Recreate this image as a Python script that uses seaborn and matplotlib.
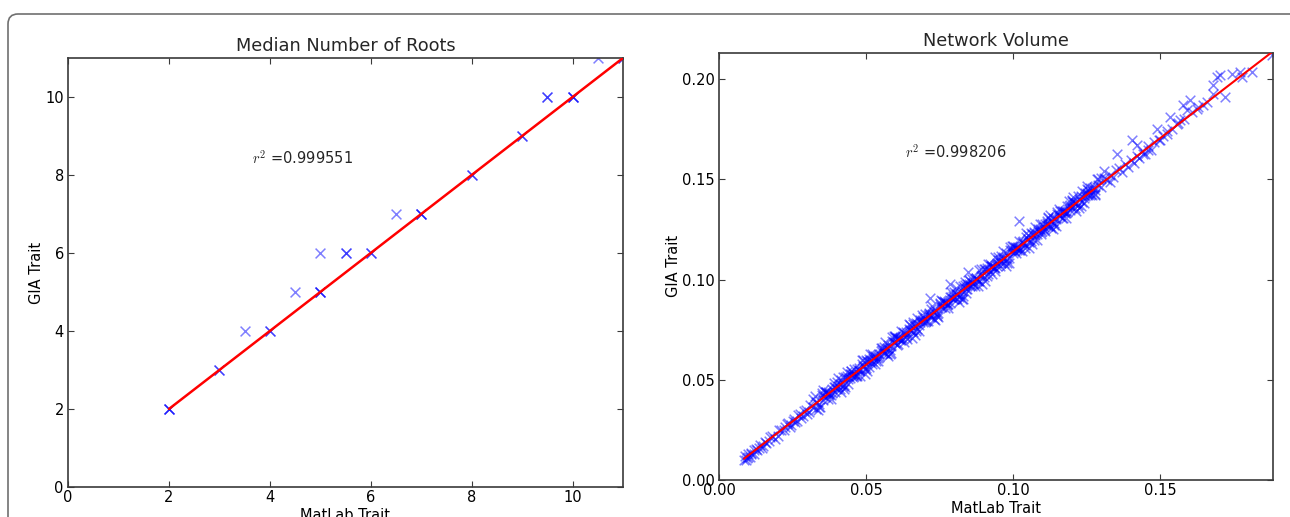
import numpy as np
import pandas as pd
import matplotlib
matplotlib.use("Agg")
import matplotlib.pyplot as plt
from matplotlib.patches import FancyBboxPatch
import seaborn as sns

# ---------------- data ----------------
# Left panel: Median Number of Roots (repeated pairs = overlapping marks)
roots_matlab = [2, 2, 2, 3, 3, 3.5, 4, 4, 4.5, 5, 5, 5, 5, 5.5, 5.5, 6, 6, 6.5,
                7, 7, 7, 8, 8, 9, 9, 9.5, 9.5, 10, 10, 10, 10.5, 11, 11]
roots_gia = [2, 2, 2, 3, 3, 4, 4, 4, 5, 5, 5, 5, 6, 6, 6, 6, 6, 7,
             7, 7, 7, 8, 8, 9, 9, 10, 10, 10, 10, 10, 11, 11, 11]
roots_fit = (1.0, 0.0)          # slope, intercept of the red fit line
roots_r2 = "0.999551"
roots_ticks = [0, 2, 4, 6, 8, 10]
roots_lim = (0, 11)

# Right panel: Network Volume (values read from the dense cloud)
vol_matlab_low = [0.0085, 0.009, 0.0095, 0.010, 0.0105, 0.011, 0.012, 0.013, 0.014, 0.015,
                  0.016, 0.018, 0.019, 0.021, 0.022, 0.023, 0.024, 0.025, 0.026, 0.027,
                  0.028, 0.029, 0.030,
                  0.0092, 0.0100, 0.0108, 0.0118, 0.0125, 0.0135, 0.0145, 0.0155, 0.017, 0.0175,
                  0.020, 0.0205, 0.0225, 0.0235, 0.0245, 0.0255, 0.0265, 0.0275, 0.0285, 0.0295,
                  0.0305]
vol_gia_low = [0.0098, 0.0121, 0.0108, 0.0131, 0.0115, 0.0128, 0.0152, 0.0149, 0.0175, 0.0168,
               0.0185, 0.0219, 0.0207, 0.0249, 0.0251, 0.0278, 0.0263, 0.0296, 0.0289, 0.0322,
               0.0311, 0.0344, 0.0329,
               0.0099, 0.0117, 0.0136, 0.0131, 0.0155, 0.0160, 0.0159, 0.0188, 0.0196, 0.0214,
               0.0221, 0.0250, 0.0262, 0.0284, 0.0272, 0.0305, 0.0296, 0.0330, 0.0318, 0.0350,
               0.0340]

vol_matlab_mid_a = [0.031, 0.032, 0.033, 0.034, 0.035, 0.036, 0.037, 0.038, 0.039, 0.040,
                    0.041, 0.042, 0.043, 0.044, 0.045, 0.046, 0.047, 0.048, 0.049, 0.050,
                    0.051, 0.052, 0.053, 0.054, 0.055, 0.056, 0.057, 0.058, 0.059, 0.060,
                    0.061, 0.062, 0.063, 0.064, 0.065, 0.066, 0.067, 0.068, 0.069, 0.070,
                    0.071, 0.072, 0.073, 0.074, 0.075, 0.076, 0.077, 0.078, 0.079, 0.080,
                    0.081, 0.082, 0.083, 0.084, 0.085, 0.086, 0.087, 0.088, 0.089, 0.090,
                    0.091, 0.092, 0.093, 0.094, 0.095, 0.096, 0.097, 0.098, 0.099, 0.100,
                    0.101, 0.102, 0.103, 0.104, 0.105, 0.106, 0.107, 0.108, 0.109, 0.110,
                    0.111, 0.112, 0.113, 0.114, 0.115, 0.116, 0.117, 0.118, 0.119, 0.120,
                    0.121, 0.122, 0.123, 0.124, 0.125, 0.126, 0.127, 0.128, 0.129, 0.130,
                    0.131, 0.132, 0.133, 0.134, 0.135]
vol_gia_mid_a = [0.0372, 0.0362, 0.0387, 0.0378, 0.0424, 0.0412, 0.0437, 0.0426, 0.0463, 0.0452,
                 0.0477, 0.0469, 0.0514, 0.0502, 0.0528, 0.0517, 0.0553, 0.0542, 0.0568, 0.0559,
                 0.0604, 0.0593, 0.0618, 0.0607, 0.0644, 0.0633, 0.0658, 0.0649, 0.0695, 0.0683,
                 0.0708, 0.0698, 0.0734, 0.0723, 0.0749, 0.0740, 0.0785, 0.0773, 0.0799, 0.0788,
                 0.0824, 0.0814, 0.0839, 0.0830, 0.0876, 0.0864, 0.0889, 0.0878, 0.0915, 0.0904,
                 0.0929, 0.0921, 0.0966, 0.0954, 0.0980, 0.0969, 0.1005, 0.0994, 0.1020, 0.1011,
                 0.1056, 0.1045, 0.1070, 0.1059, 0.1096, 0.1085, 0.1110, 0.1101, 0.1147, 0.1135,
                 0.1160, 0.1150, 0.1186, 0.1175, 0.1201, 0.1192, 0.1237, 0.1225, 0.1251, 0.1240,
                 0.1276, 0.1266, 0.1291, 0.1282, 0.1328, 0.1316, 0.1341, 0.1330, 0.1367, 0.1356,
                 0.1381, 0.1373, 0.1418, 0.1406, 0.1432, 0.1421, 0.1457, 0.1446, 0.1472, 0.1463,
                 0.1508, 0.1497, 0.1522, 0.1511, 0.1548]

vol_matlab_mid_b = [0.0355, 0.0365, 0.0375, 0.0385, 0.0395, 0.0405, 0.0415, 0.0425, 0.0435, 0.0445,
                    0.0455, 0.0465, 0.0475, 0.0485, 0.0495, 0.0505, 0.0515, 0.0525, 0.0535, 0.0545,
                    0.0555, 0.0565, 0.0575, 0.0585, 0.0595, 0.0605, 0.0615, 0.0625, 0.0635, 0.0645,
                    0.0655, 0.0665, 0.0675, 0.0685, 0.0695, 0.0705, 0.0715, 0.0725, 0.0735, 0.0745,
                    0.0755, 0.0765, 0.0775, 0.0785, 0.0795, 0.0805, 0.0815, 0.0825, 0.0835, 0.0845,
                    0.0855, 0.0865, 0.0875, 0.0885, 0.0895, 0.0905, 0.0915, 0.0925, 0.0935, 0.0945,
                    0.0955, 0.0965, 0.0975, 0.0985, 0.0995, 0.1005, 0.1015, 0.1025, 0.1035, 0.1045,
                    0.1055, 0.1065, 0.1075, 0.1085, 0.1095, 0.1105, 0.1115, 0.1125, 0.1135, 0.1145,
                    0.1155, 0.1165, 0.1175, 0.1185, 0.1195, 0.1205, 0.1215, 0.1225, 0.1235, 0.1245,
                    0.1255]
vol_gia_mid_b = [0.0397, 0.0437, 0.0431, 0.0452, 0.0437, 0.0470, 0.0499, 0.0476, 0.0517, 0.0510,
                 0.0531, 0.0517, 0.0549, 0.0578, 0.0555, 0.0596, 0.0589, 0.0610, 0.0596, 0.0628,
                 0.0657, 0.0635, 0.0675, 0.0668, 0.0689, 0.0675, 0.0707, 0.0736, 0.0714, 0.0754,
                 0.0747, 0.0769, 0.0754, 0.0786, 0.0815, 0.0793, 0.0833, 0.0826, 0.0848, 0.0833,
                 0.0865, 0.0894, 0.0872, 0.0912, 0.0905, 0.0927, 0.0912, 0.0944, 0.0974, 0.0951,
                 0.0991, 0.0985, 0.1006, 0.0991, 0.1023, 0.1053, 0.1030, 0.1070, 0.1064, 0.1085,
                 0.1070, 0.1103, 0.1132, 0.1109, 0.1149, 0.1143, 0.1164, 0.1149, 0.1182, 0.1211,
                 0.1188, 0.1229, 0.1222, 0.1243, 0.1228, 0.1261, 0.1290, 0.1267, 0.1308, 0.1301,
                 0.1322, 0.1308, 0.1340, 0.1369, 0.1346, 0.1387, 0.1380, 0.1401, 0.1387, 0.1419,
                 0.1448]

vol_matlab_mid_c = [0.032, 0.034, 0.036, 0.038, 0.040, 0.042, 0.044, 0.046, 0.048, 0.050,
                    0.052, 0.054, 0.056, 0.058, 0.060, 0.062, 0.064, 0.066, 0.068, 0.070,
                    0.072, 0.074, 0.076, 0.078, 0.080, 0.082, 0.084, 0.086, 0.088, 0.090,
                    0.092, 0.094, 0.096, 0.098, 0.100, 0.102, 0.104, 0.106, 0.108, 0.110,
                    0.112, 0.114, 0.116, 0.118, 0.120, 0.122, 0.124, 0.126, 0.128, 0.130]
vol_gia_mid_c = [0.0402, 0.0366, 0.0439, 0.0405, 0.0488, 0.0515, 0.0479, 0.0552, 0.0518, 0.0601,
                 0.0628, 0.0592, 0.0665, 0.0631, 0.0714, 0.0741, 0.0705, 0.0778, 0.0744, 0.0827,
                 0.0854, 0.0818, 0.0891, 0.0857, 0.0940, 0.0967, 0.0931, 0.1004, 0.0970, 0.1053,
                 0.1080, 0.1044, 0.1117, 0.1083, 0.1166, 0.1193, 0.1157, 0.1230, 0.1196, 0.1279,
                 0.1306, 0.1270, 0.1343, 0.1309, 0.1392, 0.1419, 0.1383, 0.1456, 0.1422, 0.1505]

vol_matlab_mid_d = [0.033, 0.035, 0.037, 0.039, 0.041, 0.043, 0.045, 0.047, 0.049, 0.051,
                    0.053, 0.055, 0.057, 0.059, 0.061, 0.063, 0.065, 0.067, 0.069, 0.071,
                    0.073, 0.075, 0.077, 0.079, 0.081, 0.083, 0.085, 0.087, 0.089, 0.091,
                    0.093, 0.095, 0.097, 0.099, 0.101, 0.103, 0.105, 0.107, 0.109, 0.111,
                    0.113, 0.115, 0.117, 0.119, 0.121, 0.123, 0.125, 0.127, 0.129]
vol_gia_mid_d = [0.0352, 0.0433, 0.0405, 0.0486, 0.0453, 0.0465, 0.0546, 0.0518, 0.0599, 0.0566,
                 0.0578, 0.0659, 0.0631, 0.0712, 0.0679, 0.0691, 0.0772, 0.0744, 0.0825, 0.0792,
                 0.0804, 0.0885, 0.0857, 0.0938, 0.0905, 0.0917, 0.0998, 0.0970, 0.1051, 0.1018,
                 0.1030, 0.1111, 0.1083, 0.1164, 0.1131, 0.1143, 0.1224, 0.1196, 0.1277, 0.1244,
                 0.1256, 0.1337, 0.1309, 0.1390, 0.1357, 0.1369, 0.1450, 0.1422, 0.1503]

vol_matlab_mid_e = [0.0325, 0.0345, 0.0365, 0.0385, 0.0405, 0.0425, 0.0445, 0.0465, 0.0485, 0.0505,
                    0.0525, 0.0545, 0.0565, 0.0585, 0.0605, 0.0625, 0.0645, 0.0665, 0.0685, 0.0705,
                    0.0725, 0.0745, 0.0765, 0.0785, 0.0805, 0.0825, 0.0845, 0.0865, 0.0885, 0.0905,
                    0.0925, 0.0945, 0.0965, 0.0985, 0.1005, 0.1025, 0.1045, 0.1065, 0.1085, 0.1105,
                    0.1125, 0.1145, 0.1165, 0.1185, 0.1205, 0.1225, 0.1245, 0.1265, 0.1285]
vol_gia_mid_e = [0.0417, 0.0362, 0.0438, 0.0433, 0.0508, 0.0452, 0.0528, 0.0524, 0.0598, 0.0543,
                 0.0618, 0.0614, 0.0689, 0.0633, 0.0709, 0.0704, 0.0779, 0.0724, 0.0799, 0.0795,
                 0.0869, 0.0814, 0.0890, 0.0885, 0.0960, 0.0904, 0.0980, 0.0976, 0.1050, 0.0995,
                 0.1070, 0.1066, 0.1141, 0.1085, 0.1161, 0.1156, 0.1231, 0.1176, 0.1251, 0.1247,
                 0.1321, 0.1266, 0.1342, 0.1337, 0.1412, 0.1356, 0.1432, 0.1428, 0.1502]

vol_matlab_mid_f = [0.0335, 0.0355, 0.0375, 0.0395, 0.0415, 0.0435, 0.0455, 0.0475, 0.0495, 0.0515,
                    0.0535, 0.0555, 0.0575, 0.0595, 0.0615, 0.0635, 0.0655, 0.0675, 0.0695, 0.0715,
                    0.0735, 0.0755, 0.0775, 0.0795, 0.0815, 0.0835, 0.0855, 0.0875, 0.0895, 0.0915,
                    0.0935, 0.0955, 0.0975, 0.0995, 0.1015, 0.1035, 0.1055, 0.1075, 0.1095, 0.1115,
                    0.1135, 0.1155, 0.1175, 0.1195, 0.1215, 0.1235, 0.1255, 0.1275]
vol_gia_mid_f = [0.0347, 0.0447, 0.0426, 0.0466, 0.0437, 0.0538, 0.0516, 0.0557, 0.0527, 0.0628,
                 0.0607, 0.0647, 0.0618, 0.0718, 0.0697, 0.0738, 0.0708, 0.0809, 0.0787, 0.0828,
                 0.0799, 0.0899, 0.0878, 0.0918, 0.0889, 0.0990, 0.0968, 0.1009, 0.0979, 0.1080,
                 0.1059, 0.1099, 0.1070, 0.1170, 0.1149, 0.1190, 0.1160, 0.1261, 0.1239, 0.1280,
                 0.1251, 0.1351, 0.1330, 0.1370, 0.1341, 0.1442, 0.1420, 0.1461]

vol_matlab_high = [0.136, 0.137, 0.138, 0.139, 0.140, 0.141, 0.142, 0.143, 0.144, 0.145,
                   0.146, 0.147, 0.148, 0.1495, 0.151, 0.1525, 0.154, 0.156, 0.158, 0.161,
                   0.163, 0.166,
                   0.1353, 0.1404, 0.1421, 0.1443, 0.146, 0.1489, 0.150, 0.1523, 0.1534, 0.1557,
                   0.1568, 0.1579, 0.1591, 0.1602, 0.1625, 0.1647, 0.1681, 0.1681, 0.1693, 0.1704,
                   0.1721, 0.1744, 0.1772, 0.1778, 0.1812, 0.1880]
vol_gia_high = [0.1555, 0.1537, 0.1578, 0.1562, 0.1598, 0.1581, 0.1617, 0.1605, 0.1640, 0.1628,
                0.1665, 0.1649, 0.1685, 0.1697, 0.1716, 0.1741, 0.1752, 0.1781, 0.1800, 0.1838,
                0.1862, 0.1887,
                0.1629, 0.1695, 0.1670, 0.1629, 0.1645, 0.1753, 0.1695, 0.1728, 0.1811, 0.1778,
                0.1795, 0.1869, 0.1845, 0.1894, 0.1853, 0.1869, 0.1969, 0.1928, 0.2011, 0.2019,
                0.1911, 0.2027, 0.2035, 0.2011, 0.2035, 0.2119]

vol_matlab_out = [0.1021, 0.0786, 0.0716, 0.0847, 0.094, 0.112, 0.120, 0.125, 0.128, 0.131,
                  0.133, 0.060, 0.045, 0.052, 0.066, 0.083]
vol_gia_out = [0.1293, 0.0977, 0.0906, 0.1038, 0.1115, 0.1312, 0.1395, 0.1468, 0.1425, 0.1540,
               0.1487, 0.0718, 0.0542, 0.0579, 0.0786, 0.0905]

vol_fit = (1.13, 0.001)        # slope, intercept of the red fit line
vol_r2 = "0.998206"
vol_ticks_x = [0.00, 0.05, 0.10, 0.15]
vol_ticks_y = [0.00, 0.05, 0.10, 0.15, 0.20]
vol_lim_x = (0, 0.1884)
vol_lim_y = (0, 0.2133)

titles = ["Median Number of Roots", "Network Volume"]
xlabel = "MatLab Trait"
ylabel = "GIA Trait"

vol_matlab = (vol_matlab_low + vol_matlab_mid_a + vol_matlab_mid_b + vol_matlab_mid_c
              + vol_matlab_mid_d + vol_matlab_mid_e + vol_matlab_mid_f
              + vol_matlab_high + vol_matlab_out)
vol_gia = (vol_gia_low + vol_gia_mid_a + vol_gia_mid_b + vol_gia_mid_c
           + vol_gia_mid_d + vol_gia_mid_e + vol_gia_mid_f
           + vol_gia_high + vol_gia_out)

# ---------------- style ----------------
sns.set_style("ticks")
plt.rcParams.update({
    "font.family": ["DejaVu Sans"],
    "mathtext.fontset": "cm",
    "xtick.direction": "in", "ytick.direction": "in",
    "xtick.top": True, "ytick.right": True,
    "xtick.major.size": 4, "ytick.major.size": 4,
    "xtick.major.pad": 2, "ytick.major.pad": 3,
    "xtick.labelsize": 10.5, "ytick.labelsize": 10.5,
    "axes.edgecolor": "#3a3a3a", "axes.linewidth": 1.2,
    "xtick.color": "#3a3a3a", "ytick.color": "#3a3a3a",
    "xtick.labelcolor": "black", "ytick.labelcolor": "black",
    "axes.labelsize": 10.5, "axes.titlesize": 12.8,
    "axes.labelcolor": "black",
})

W, H = 1290, 517
fig = plt.figure(figsize=(W / 100, H / 100), dpi=100)
fig.patch.set_facecolor("white")

ax1 = fig.add_axes([68 / W, (H - 487) / H, 555 / W, 429 / H])
ax2 = fig.add_axes([719 / W, (H - 480) / H, 554 / W, 427.5 / H])

# left panel
df1 = pd.DataFrame({"matlab": roots_matlab, "gia": roots_gia})
sns.scatterplot(data=df1, x="matlab", y="gia", ax=ax1, marker="x", color="#0000ff",
                alpha=0.5, s=50, linewidth=1.1, legend=False, zorder=2)
x1 = np.array([df1.matlab.min(), df1.matlab.max()])
sns.lineplot(x=x1, y=roots_fit[0] * x1 + roots_fit[1], ax=ax1, color="#ff0000",
             linewidth=1.8, zorder=3)
ax1.set_xlim(*roots_lim)
ax1.set_ylim(*roots_lim)
ax1.set_xticks(roots_ticks)
ax1.set_yticks(roots_ticks)
ax1.text(0.332, 0.768, r"$r^2$ =" + roots_r2, transform=ax1.transAxes,
         fontsize=10.5, va="center", ha="left")

# right panel
df2 = pd.DataFrame({"matlab": vol_matlab, "gia": vol_gia})
sns.scatterplot(data=df2, x="matlab", y="gia", ax=ax2, marker="x", color="#0000ff",
                alpha=0.5, s=48, linewidth=1.1, legend=False, zorder=2)
x2 = np.array([df2.matlab.min(), df2.matlab.max()])
sns.lineplot(x=x2, y=vol_fit[0] * x2 + vol_fit[1], ax=ax2, color="#ff0000",
             linewidth=1.5, zorder=3)
ax2.set_xlim(*vol_lim_x)
ax2.set_ylim(*vol_lim_y)
ax2.set_xticks(vol_ticks_x)
ax2.set_yticks(vol_ticks_y)
ax2.xaxis.set_major_formatter(matplotlib.ticker.FormatStrFormatter("%.2f"))
ax2.yaxis.set_major_formatter(matplotlib.ticker.FormatStrFormatter("%.2f"))
ax2.text(0.336, 0.767, r"$r^2$ =" + vol_r2, transform=ax2.transAxes,
         fontsize=10.5, va="center", ha="left")

for ax, t in zip((ax1, ax2), titles):
    ax.set_title(t, pad=5)
    ax.set_xlabel(xlabel, labelpad=2)
    ax.set_ylabel(ylabel, labelpad=1)

# journal-style rounded frame around the figure
frame = FancyBboxPatch((0.08, -0.5), 13.5, 5.53,
                       boxstyle="round,pad=0,rounding_size=0.1",
                       transform=fig.dpi_scale_trans, fill=False,
                       edgecolor="#707070", linewidth=1.2)
fig.patches.append(frame)

fig.savefig("out.png", dpi=100)
